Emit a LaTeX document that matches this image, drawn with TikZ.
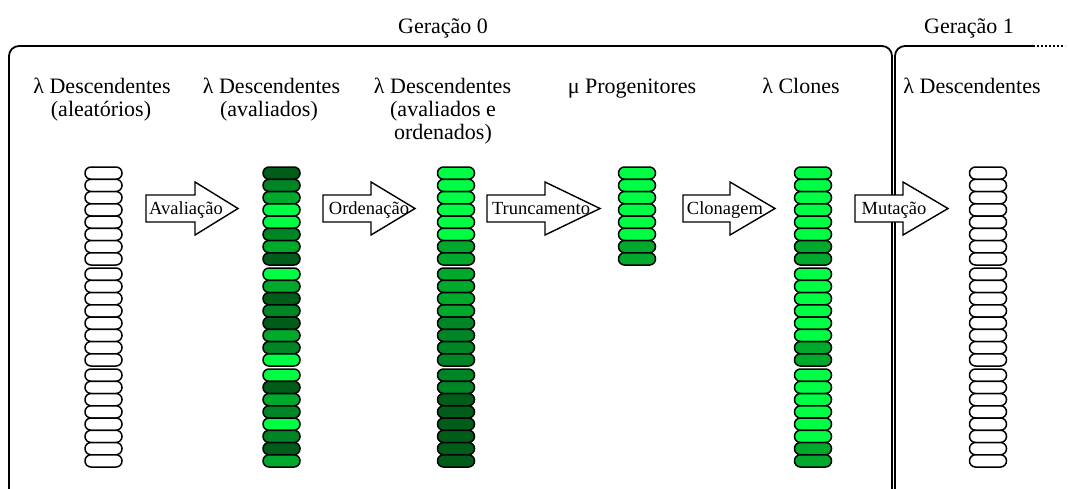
\documentclass[tikz,border=0pt]{standalone}
\usepackage{fontspec}
\setmainfont{Liberation Serif}

% fitness shades of the individuals
\definecolor{gB}{HTML}{00FF44}
\definecolor{gMB}{HTML}{00A82C}
\definecolor{gM}{HTML}{008526}
\definecolor{gD}{HTML}{005C19}
\definecolor{gW}{HTML}{FFFFFF}

\tikzset{
  frameline/.style={line width=1.8pt, rounded corners=10pt},
  cell/.style={draw=black, line width=1.5pt, rounded corners=6pt,
    minimum width=37pt, minimum height=12.25pt, inner sep=0pt},
  stagearrow/.style={draw=black, fill=white, line width=1.4pt, line join=miter},
  biglabel/.style={font=\fontsize{22}{24}\selectfont, inner sep=0pt, anchor=base},
  arrowlabel/.style={font=\fontsize{18.5}{20}\selectfont, inner sep=0pt, anchor=base},
}

% a population column: name, centre x, list of cell colours (groups of 8)
\newcommand\cellcolumn[3]{%
  \foreach \c [count=\i from 0] in {#3} {
    \pgfmathsetmacro\yy{167 + 12.25*\i + 3*floor(\i/8) + 6.125}
    \node[cell, fill=\c] (#1-\i) at (#2,\yy) {};
  }%
}

% a block arrow with its operator name: name, tail x, head base x, tip x, label x, label
\newcommand\opArrow[6]{%
  \draw[stagearrow] (#2,195) -- (#3,195) -- (#3,182) -- (#4,208.5)
    -- (#3,235) -- (#3,222) -- (#2,222) -- cycle;
  \node[arrowlabel] (#1) at (#5,214.5) {#6};
}

\begin{document}
\begin{tikzpicture}[x=1pt, y=-1pt]
  \useasboundingbox (0,0) rectangle (1069,488);

  % generation frames
  \draw[frameline] (9,492) -- (9,46) -- (892,46) -- (892,492);
  \draw[frameline] (895,492) -- (895,46) -- (1033,46);
  \draw[line width=1.6pt, dash pattern=on 1.8pt off 2.2pt] (1033,46) -- (1065,46);

  \node[biglabel] (gen0) at (443,33) {Geração 0};
  \node[biglabel] (gen1) at (969,33) {Geração 1};

  % column headings
  \node[biglabel] (h1a) at (102,93) {λ Descendentes};
  \node[biglabel] (h1b) at (101,116) {(aleatórios)};
  \node[biglabel] (h2a) at (271.5,93) {λ Descendentes};
  \node[biglabel] (h2b) at (269,116) {(avaliados)};
  \node[biglabel] (h3a) at (442.5,93) {λ Descendentes};
  \node[biglabel] (h3b) at (443,116) {(avaliados e};
  \node[biglabel] (h3c) at (443,139.5) {ordenados)};
  \node[biglabel] (h4a) at (632,93) {μ Progenitores};
  \node[biglabel] (h5a) at (801,93) {λ Clones};
  \node[biglabel] (h6a) at (972,93) {λ Descendentes};

  % populations
  \cellcolumn{rand}{103.5}{gW,gW,gW,gW,gW,gW,gW,gW,gW,gW,gW,gW,gW,gW,gW,gW,gW,gW,gW,gW,gW,gW,gW,gW}
  \cellcolumn{eval}{281.5}{gD,gM,gMB,gB,gB,gM,gMB,gD,gB,gMB,gD,gM,gD,gMB,gM,gB,gB,gD,gMB,gM,gB,gM,gD,gMB}
  \cellcolumn{sort}{456}{gB,gB,gB,gB,gB,gB,gMB,gMB,gMB,gMB,gMB,gMB,gM,gM,gM,gM,gM,gM,gD,gD,gD,gD,gD,gD}
  \cellcolumn{par}{637}{gB,gB,gB,gB,gB,gB,gMB,gMB}
  \cellcolumn{clone}{813}{gB,gB,gB,gB,gB,gB,gMB,gMB,gB,gB,gB,gB,gB,gB,gMB,gMB,gB,gB,gB,gB,gB,gB,gMB,gMB}
  \cellcolumn{off}{988}{gW,gW,gW,gW,gW,gW,gW,gW,gW,gW,gW,gW,gW,gW,gW,gW,gW,gW,gW,gW,gW,gW,gW,gW}

  % operators
  \opArrow{aval}{146}{195}{238}{186}{Avaliação}
  \opArrow{orden}{323}{371}{415}{369}{Ordenação}
  \opArrow{trunc}{487}{545}{600}{541}{Truncamento}
  \opArrow{clon}{683}{730}{775}{725}{Clonagem}
  \opArrow{mut}{855}{903}{948}{894}{Mutação}
\end{tikzpicture}
\end{document}
